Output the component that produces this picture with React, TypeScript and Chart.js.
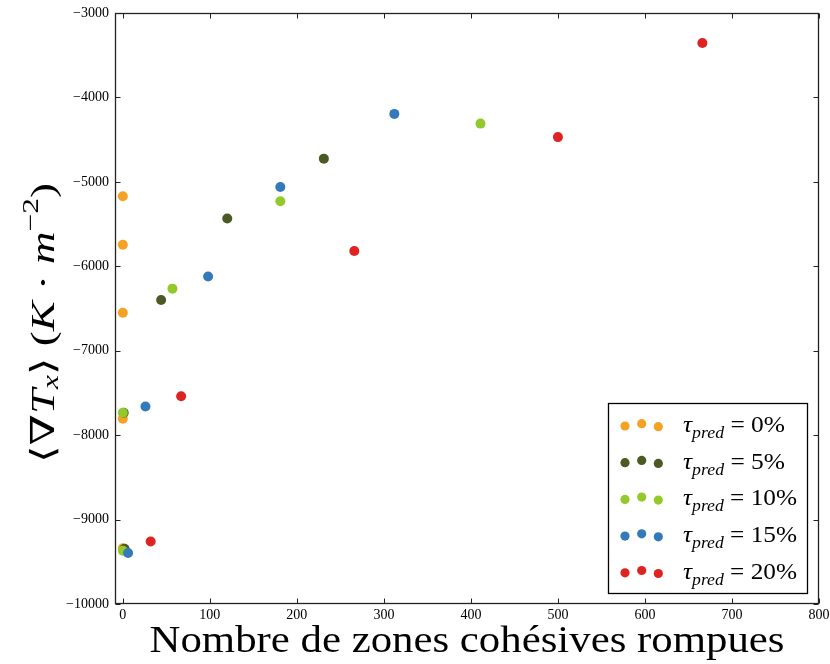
import React, { useEffect, useRef } from 'react';
import { Chart, registerables } from 'chart.js';

Chart.register(...registerables);

// ---- data ----
const seriesLabels = ['0%', '5%', '10%', '15%', '20%'];
const seriesColors = ['#f5a224', '#4b5a22', '#93c92a', '#3479ba', '#de2320'];

const x0 = [0, 0, 0, 0, 0];
const y0 = [-5170, -5745, -6550, -7805, -9340];

const x5 = [1, 44, 120, 231, 2];
const y5 = [-7735, -6400, -5435, -4725, -9345];

const x10 = [0, 57, 181, 411, 0];
const y10 = [-7735, -6265, -5230, -4310, -9370];

const x15 = [6, 26, 98, 181, 312];
const y15 = [-9395, -7660, -6120, -5060, -4195];

const x20 = [32, 67, 266, 500, 666];
const y20 = [-9260, -7540, -5820, -4470, -3355];

const seriesX = [x0, x5, x10, x15, x20];
const seriesY = [y0, y5, y10, y15, y20];

const xTicks = [0, 100, 200, 300, 400, 500, 600, 700, 800];
const yTicks = [-10000, -9000, -8000, -7000, -6000, -5000, -4000, -3000];

const xTitle = 'Nombre de zones cohésives rompues';

const SERIF = "'Liberation Serif', 'DejaVu Serif', serif";

type Run = { t: string; italic?: boolean; scale?: number; dy?: number };

function runsWidth(ctx: CanvasRenderingContext2D, runs: Run[], size: number) {
  let w = 0;
  for (const r of runs) {
    ctx.font = `${r.italic ? 'italic ' : ''}${size * (r.scale ?? 1)}px ${SERIF}`;
    w += ctx.measureText(r.t).width;
  }
  return w;
}

function drawRuns(ctx: CanvasRenderingContext2D, runs: Run[], x: number, y: number, size: number) {
  let cx = x;
  ctx.textBaseline = 'alphabetic';
  ctx.textAlign = 'left';
  for (const r of runs) {
    ctx.font = `${r.italic ? 'italic ' : ''}${size * (r.scale ?? 1)}px ${SERIF}`;
    ctx.fillText(r.t, cx, y + (r.dy ?? 0) * size);
    cx += ctx.measureText(r.t).width;
  }
}

const decor = {
  id: 'decor',
  beforeDatasetsDraw(chart: any) {
    const { ctx, chartArea: a, scales } = chart;
    ctx.save();
    ctx.strokeStyle = '#222';
    ctx.lineWidth = 1;
    const L = Math.round(a.left) + 0.5;
    const R = Math.round(a.right) - 0.5;
    const T = Math.round(a.top) + 0.5;
    const B = Math.round(a.bottom) - 0.5;
    const tl = 5;
    ctx.beginPath();
    for (const t of scales.x.ticks) {
      const px = Math.round(scales.x.getPixelForValue(t.value)) + 0.5;
      ctx.moveTo(px, B); ctx.lineTo(px, B - tl);
      ctx.moveTo(px, T); ctx.lineTo(px, T + tl);
    }
    for (const t of scales.y.ticks) {
      const py = Math.round(scales.y.getPixelForValue(t.value)) + 0.5;
      ctx.moveTo(L, py); ctx.lineTo(L + tl, py);
      ctx.moveTo(R, py); ctx.lineTo(R - tl, py);
    }
    ctx.stroke();
    ctx.lineWidth = 1.3;
    ctx.strokeRect(L, T, R - L, B - T);
    ctx.restore();
  },
  afterDraw(chart: any) {
    const { ctx, chartArea: a } = chart;
    ctx.save();
    ctx.fillStyle = '#000';

    // x title (slightly widened to match the wide serif of the original)
    const xSize = 37;
    ctx.font = `${xSize}px ${SERIF}`;
    const xw = ctx.measureText(xTitle).width;
    const xTarget = 635;
    ctx.save();
    ctx.translate((a.left + a.right) / 2, 652);
    ctx.scale(xTarget / xw, 1);
    ctx.textAlign = 'center';
    ctx.textBaseline = 'alphabetic';
    ctx.fillText(xTitle, 0, 0);
    ctx.restore();

    // y title (rotated)
    const ySize = 33;
    const yRuns: Run[] = [
      { t: '⟨' },
      { t: '∇' },
      { t: 'T', italic: true },
      { t: 'x', italic: true, scale: 0.7, dy: 0.12 },
      { t: '⟩' },
      { t: ' (' },
      { t: 'K', italic: true },
      { t: ' · ' },
      { t: 'm', italic: true },
      { t: '−2', scale: 0.7, dy: -0.48 },
      { t: ')' },
    ];
    ctx.save();
    ctx.translate(54, 323);
    ctx.rotate(-Math.PI / 2);
    const yw = runsWidth(ctx, yRuns, ySize);
    const yTarget = 280;
    ctx.scale(yTarget / yw, 1);
    drawRuns(ctx, yRuns, -yw / 2, 0, ySize);
    ctx.restore();

    // legend
    const boxR = a.right - 12;
    const boxB = a.bottom - 11;
    const boxL = boxR - 199;
    const boxT = boxB - 190;
    ctx.fillStyle = '#fff';
    ctx.fillRect(boxL, boxT, boxR - boxL, boxB - boxT);
    ctx.strokeStyle = '#000';
    ctx.lineWidth = 1.3;
    ctx.strokeRect(Math.round(boxL) + 0.5, Math.round(boxT) + 0.5, Math.round(boxR - boxL), Math.round(boxB - boxT));
    const rowStep = 36.7;
    const dotDx = [17, 33.7, 50.3];
    const dotDy = [0, -2.3, 0.7];
    const lSize = 24;
    seriesLabels.forEach((lab, i) => {
      const ry = boxT + 23 + i * rowStep;
      ctx.fillStyle = seriesColors[i];
      for (let k = 0; k < 3; k++) {
        ctx.beginPath();
        ctx.arc(boxL + dotDx[k], ry + dotDy[k], 4.6, 0, Math.PI * 2);
        ctx.fill();
      }
      ctx.fillStyle = '#000';
      const runs: Run[] = [
        { t: 'τ', italic: true },
        { t: 'pred', italic: true, scale: 0.7, dy: 0.25 },
        { t: ' = ' },
        { t: lab },
      ];
      const tx = boxL + 75;
      const ty = ry + 6;
      const tw = runsWidth(ctx, runs, lSize);
      ctx.save();
      ctx.translate(tx, ty);
      // widen a little to echo the original's math font
      const natural = i < 2 ? 102 : 114;
      ctx.scale(Math.max(1, Math.min(1.08, natural / tw)), 1);
      drawRuns(ctx, runs, 0, 0, lSize);
      ctx.restore();
    });
    ctx.restore();
  },
};

export default function App() {
  const ref = useRef<HTMLCanvasElement | null>(null);
  useEffect(() => {
    document.body.style.margin = '0';
    document.body.style.background = '#fff';
    const canvas = ref.current;
    if (!canvas) return;
    const datasets = seriesLabels.map((lab, i) => ({
      label: lab,
      data: seriesX[i].map((x, j) => ({ x, y: seriesY[i][j] })),
      backgroundColor: seriesColors[i],
      borderColor: seriesColors[i],
      borderWidth: 0,
      pointRadius: 5,
      pointHoverRadius: 5,
      order: seriesLabels.length - 1 - i,
    }));
    const fmt = (v: number) => (v < 0 ? '\u2212' + Math.abs(v) : String(v));
    const chart = new Chart(canvas, {
      type: 'scatter',
      data: { datasets },
      plugins: [decor],
      options: {
        animation: false,
        responsive: false,
        devicePixelRatio: 1,
        layout: { padding: { left: 0, right: 11, top: 13, bottom: 0 } },
        plugins: { legend: { display: false }, tooltip: { enabled: false }, title: { display: false } },
        scales: {
          x: {
            type: 'linear',
            min: -9,
            max: 800,
            grid: { display: false, drawTicks: false },
            border: { display: false },
            afterBuildTicks: (s: any) => { s.ticks = xTicks.map((v) => ({ value: v })); },
            afterFit: (s: any) => {
              s.height = 60;
              s.paddingLeft = 0; s.paddingRight = 0; s.paddingTop = 0; s.paddingBottom = 0;
            },
            ticks: {
              autoSkip: false,
              maxRotation: 0,
              padding: 3,
              color: '#000',
              font: { family: SERIF, size: 14 },
              callback: (v: any) => fmt(Number(v)),
            },
          },
          y: {
            type: 'linear',
            min: -10000,
            max: -3000,
            grid: { display: false, drawTicks: false },
            border: { display: false },
            afterBuildTicks: (s: any) => { s.ticks = yTicks.map((v) => ({ value: v })); },
            afterFit: (s: any) => {
              s.width = 115;
              s.paddingLeft = 0; s.paddingRight = 0; s.paddingTop = 0; s.paddingBottom = 0;
            },
            ticks: {
              autoSkip: false,
              padding: 6,
              color: '#000',
              font: { family: SERIF, size: 14 },
              callback: (v: any) => fmt(Number(v)),
            },
          },
        },
      },
    });
    return () => chart.destroy();
  }, []);
  return (
    <div style={{ width: 830, height: 664, background: '#fff' }}>
      <canvas ref={ref} width={830} height={664} style={{ display: 'block' }} />
    </div>
  );
}
